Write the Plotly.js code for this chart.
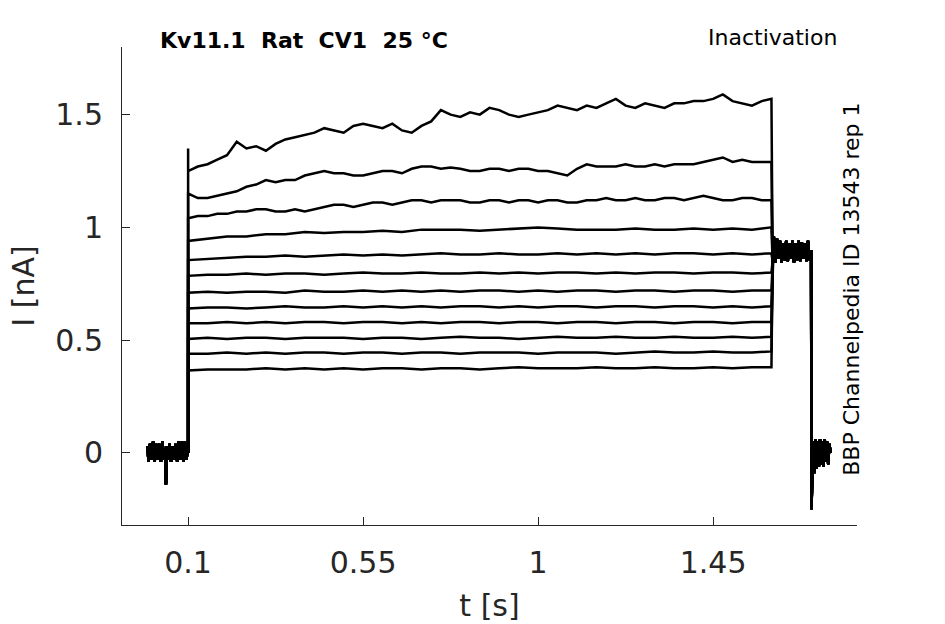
<!DOCTYPE html>
<html>
<head>
<meta charset="utf-8">
<script src="https://cdn.plot.ly/plotly-3.0.1.min.js"></script>
<style>
  html, body { margin: 0; padding: 0; background: #fff; }
  #chart { width: 945px; height: 624px; }
</style>
</head>
<body>
<div id="chart"></div>
<script>
// Holding period before the step (all sweeps overlap here)
const preT = [-0.004, -0.002, 0.002, 0.006, 0.010, 0.014, 0.018, 0.022, 0.026, 0.030,
              0.034, 0.038, 0.041, 0.043, 0.045, 0.048, 0.052, 0.056, 0.060, 0.064,
              0.068, 0.072, 0.076, 0.080, 0.084, 0.088, 0.092, 0.096, 0.099, 0.100];
const preI = [0.03, -0.04, 0.04, -0.03, 0.05, -0.04, 0.04, -0.03, 0.04, -0.04,
              0.05, -0.03, 0.02, -0.14, 0.03, -0.03, 0.04, -0.04, 0.03, -0.03,
              0.04, -0.04, 0.05, -0.03, 0.05, -0.04, 0.05, -0.03, 0.02, 0.0];

// Onset transient of the largest sweep
const onsetT = [0.1];
const onsetI = [1.35];

// Test pulse: fine sampling for the three large sweeps, coarse for the flat ones
const pulseTFine = [0.100, 0.125, 0.150, 0.175, 0.200, 0.225, 0.250, 0.275, 0.300, 0.325,
                    0.350, 0.375, 0.400, 0.425, 0.450, 0.475, 0.500, 0.525, 0.550, 0.575,
                    0.600, 0.625, 0.650, 0.675, 0.700, 0.725, 0.750, 0.775, 0.800, 0.825,
                    0.850, 0.875, 0.900, 0.925, 0.950, 0.975, 1.000, 1.025, 1.050, 1.075,
                    1.100, 1.125, 1.150, 1.175, 1.200, 1.225, 1.250, 1.275, 1.300, 1.325,
                    1.350, 1.375, 1.400, 1.425, 1.450, 1.475, 1.500, 1.525, 1.550, 1.575, 1.600];
const pulseT = [0.10, 0.15, 0.20, 0.25, 0.30, 0.35, 0.40, 0.45, 0.50, 0.55,
                0.60, 0.65, 0.70, 0.75, 0.80, 0.85, 0.90, 0.95, 1.00, 1.05,
                1.10, 1.15, 1.20, 1.25, 1.30, 1.35, 1.40, 1.45, 1.50, 1.55, 1.60];

const sweep1 = [1.25, 1.27, 1.28, 1.30, 1.32, 1.38, 1.35, 1.36, 1.34, 1.37,
                1.39, 1.40, 1.41, 1.42, 1.44, 1.43, 1.42, 1.45, 1.46, 1.45,
                1.44, 1.46, 1.43, 1.42, 1.45, 1.47, 1.52, 1.50, 1.49, 1.51,
                1.50, 1.53, 1.52, 1.50, 1.49, 1.50, 1.51, 1.52, 1.54, 1.53,
                1.52, 1.54, 1.53, 1.55, 1.57, 1.54, 1.53, 1.55, 1.54, 1.53,
                1.55, 1.55, 1.56, 1.56, 1.57, 1.59, 1.56, 1.55, 1.54, 1.56, 1.57];
const sweep2 = [1.15, 1.13, 1.13, 1.14, 1.15, 1.16, 1.18, 1.19, 1.21, 1.20,
                1.21, 1.21, 1.23, 1.24, 1.25, 1.24, 1.24, 1.23, 1.23, 1.24,
                1.25, 1.25, 1.24, 1.26, 1.27, 1.27, 1.26, 1.265, 1.26, 1.25,
                1.25, 1.26, 1.26, 1.25, 1.26, 1.26, 1.25, 1.25, 1.24, 1.23,
                1.26, 1.28, 1.27, 1.27, 1.27, 1.28, 1.27, 1.27, 1.28, 1.27,
                1.28, 1.28, 1.28, 1.29, 1.30, 1.31, 1.29, 1.30, 1.29, 1.29, 1.29];
const sweep3 = [1.04, 1.05, 1.05, 1.06, 1.06, 1.07, 1.07, 1.08, 1.08, 1.07,
                1.07, 1.08, 1.07, 1.08, 1.09, 1.10, 1.10, 1.09, 1.10, 1.11,
                1.11, 1.10, 1.11, 1.12, 1.12, 1.11, 1.12, 1.12, 1.12, 1.11,
                1.11, 1.12, 1.12, 1.11, 1.12, 1.12, 1.11, 1.12, 1.12, 1.11,
                1.11, 1.12, 1.12, 1.13, 1.12, 1.12, 1.13, 1.12, 1.12, 1.13,
                1.13, 1.12, 1.13, 1.14, 1.13, 1.12, 1.12, 1.13, 1.13, 1.12, 1.12];
const sweep4 = [0.94, 0.95, 0.96, 0.96, 0.97, 0.97, 0.98, 0.975, 0.98, 0.98,
                0.985, 0.98, 0.99, 0.99, 0.99, 0.985, 0.99, 0.995, 1.00, 0.995,
                0.99, 0.99, 0.99, 0.995, 0.99, 0.99, 0.995, 0.99, 0.995, 0.99, 1.00];
const sweep5 = [0.855, 0.86, 0.865, 0.87, 0.87, 0.875, 0.87, 0.875, 0.88, 0.875,
                0.88, 0.875, 0.88, 0.885, 0.88, 0.88, 0.885, 0.88, 0.88, 0.885,
                0.88, 0.885, 0.88, 0.885, 0.88, 0.885, 0.885, 0.88, 0.885, 0.88, 0.885];
const sweep6 = [0.785, 0.79, 0.79, 0.795, 0.79, 0.795, 0.795, 0.79, 0.795, 0.80,
                0.795, 0.795, 0.80, 0.795, 0.795, 0.80, 0.795, 0.80, 0.795, 0.80,
                0.80, 0.795, 0.80, 0.795, 0.80, 0.80, 0.795, 0.80, 0.80, 0.795, 0.80];
const sweep7 = [0.71, 0.715, 0.71, 0.715, 0.715, 0.71, 0.72, 0.715, 0.715, 0.72,
                0.715, 0.72, 0.715, 0.72, 0.715, 0.72, 0.72, 0.715, 0.72, 0.715,
                0.72, 0.72, 0.715, 0.72, 0.72, 0.715, 0.72, 0.72, 0.715, 0.72, 0.72];
const sweep8 = [0.64, 0.645, 0.645, 0.64, 0.645, 0.65, 0.645, 0.645, 0.65, 0.645,
                0.65, 0.645, 0.65, 0.645, 0.65, 0.65, 0.645, 0.65, 0.645, 0.65,
                0.65, 0.645, 0.65, 0.65, 0.645, 0.65, 0.65, 0.645, 0.65, 0.645, 0.65];
const sweep9 = [0.575, 0.575, 0.58, 0.575, 0.58, 0.575, 0.58, 0.58, 0.575, 0.58,
                0.58, 0.575, 0.58, 0.575, 0.58, 0.58, 0.575, 0.58, 0.58, 0.575,
                0.58, 0.58, 0.575, 0.58, 0.58, 0.575, 0.58, 0.58, 0.575, 0.58, 0.58];
const sweep10 = [0.505, 0.51, 0.505, 0.51, 0.51, 0.505, 0.51, 0.51, 0.51, 0.505,
                 0.51, 0.51, 0.505, 0.51, 0.515, 0.51, 0.51, 0.505, 0.51, 0.515,
                 0.51, 0.51, 0.515, 0.51, 0.51, 0.515, 0.51, 0.51, 0.515, 0.51, 0.515];
const sweep11 = [0.44, 0.44, 0.445, 0.44, 0.445, 0.44, 0.445, 0.445, 0.44, 0.445,
                 0.445, 0.44, 0.445, 0.445, 0.44, 0.445, 0.445, 0.445, 0.44, 0.445,
                 0.445, 0.445, 0.44, 0.445, 0.45, 0.445, 0.445, 0.45, 0.445, 0.445, 0.45];
const sweep12 = [0.365, 0.37, 0.37, 0.37, 0.375, 0.37, 0.375, 0.37, 0.375, 0.37,
                 0.375, 0.375, 0.37, 0.375, 0.375, 0.37, 0.375, 0.38, 0.375, 0.375,
                 0.375, 0.38, 0.375, 0.375, 0.38, 0.375, 0.375, 0.38, 0.375, 0.38, 0.38];

// Tail step after the pulse
const tailT = [1.603, 1.606, 1.610, 1.614, 1.618, 1.622, 1.626, 1.630, 1.634, 1.638,
               1.642, 1.646, 1.650, 1.654, 1.658, 1.662, 1.666, 1.670, 1.674, 1.678,
               1.682, 1.686, 1.690, 1.694, 1.698, 1.702];
const tailI = [0.85, 0.96, 0.845, 0.95, 0.86, 0.94, 0.845, 0.93, 0.855, 0.94,
               0.85, 0.93, 0.86, 0.94, 0.845, 0.93, 0.855, 0.94, 0.85, 0.935,
               0.86, 0.93, 0.85, 0.94, 0.855, 0.90];

// Back to holding
const postT = [1.703, 1.705, 1.707, 1.710, 1.713, 1.716, 1.719, 1.722, 1.725, 1.728,
               1.731, 1.734, 1.737, 1.740, 1.743, 1.746, 1.749, 1.752];
const postI = [-0.25, -0.08, 0.05, -0.09, 0.06, -0.07, 0.05, -0.06, 0.06, -0.05,
               0.05, -0.06, 0.06, -0.04, 0.05, -0.05, 0.04, 0.0];

const sweeps = [sweep1, sweep2, sweep3, sweep4, sweep5, sweep6,
                sweep7, sweep8, sweep9, sweep10, sweep11, sweep12];

const xTicks = [0.1, 0.55, 1, 1.45];
const xTickText = ['0.1', '0.55', '1', '1.45'];
const yTicks = [0, 0.5, 1, 1.5];
const yTickText = ['0', '0.5', '1', '1.5'];

const FONT = 'DejaVu Sans, sans-serif';
const INK = '#262626';

const traces = sweeps.map((sw, i) => {
    const t = sw.length === pulseTFine.length ? pulseTFine : pulseT;
    const x = preT.concat(i === 0 ? onsetT : [], t, tailT, postT);
    const y = preI.concat(i === 0 ? onsetI : [], sw, tailI, postI);
    return {
        x: x, y: y, type: 'scatter', mode: 'lines',
        line: { color: '#000', width: 2.5 },
        hoverinfo: 'skip', showlegend: false
    };
});

const axisBase = {
    showline: true, linecolor: INK, linewidth: 1,
    showgrid: false, zeroline: false,
    ticks: 'inside', ticklen: 8, tickwidth: 1, tickcolor: INK,
    tickfont: { family: FONT, size: 30, color: INK },
    fixedrange: true
};

const layout = {
    width: 945, height: 624,
    paper_bgcolor: '#fff', plot_bgcolor: '#fff',
    margin: { l: 122, r: 88, t: 47, b: 99 },
    showlegend: false,
    xaxis: Object.assign({}, axisBase, {
        range: [-0.07, 1.82],
        tickvals: xTicks, ticktext: xTickText,
        ticklabelstandoff: 11,
        title: { text: 't [s]', font: { family: FONT, size: 30, color: INK }, standoff: 15 }
    }),
    yaxis: Object.assign({}, axisBase, {
        range: [-0.32, 1.8],
        tickvals: yTicks, ticktext: yTickText,
        ticklabelstandoff: 12,
        title: { text: 'I [nA]', font: { family: FONT, size: 30, color: INK }, standoff: 11 }
    }),
    annotations: [
        {
            text: '<b>Kv11.1\u00a0\u00a0Rat\u00a0\u00a0CV1\u00a0\u00a025\u00a0°C</b>',
            xref: 'paper', yref: 'paper', x: 0.049, y: 1.0146,
            xanchor: 'left', yanchor: 'middle', showarrow: false,
            font: { family: FONT, size: 22, color: '#000' }
        },
        {
            text: 'Inactivation',
            xref: 'paper', yref: 'paper', x: 0.9755, y: 1.019,
            xanchor: 'right', yanchor: 'middle', showarrow: false,
            font: { family: FONT, size: 22, color: '#000' }
        },
        {
            text: 'BBP Channelpedia ID 13543 rep 1',
            xref: 'paper', yref: 'paper', x: 0.993, y: 0.494,
            xanchor: 'center', yanchor: 'middle', textangle: -90, showarrow: false,
            font: { family: FONT, size: 22, color: '#000' }
        }
    ]
};

Plotly.newPlot('chart', traces, layout, { displayModeBar: false, staticPlot: true });
</script>
</body>
</html>
